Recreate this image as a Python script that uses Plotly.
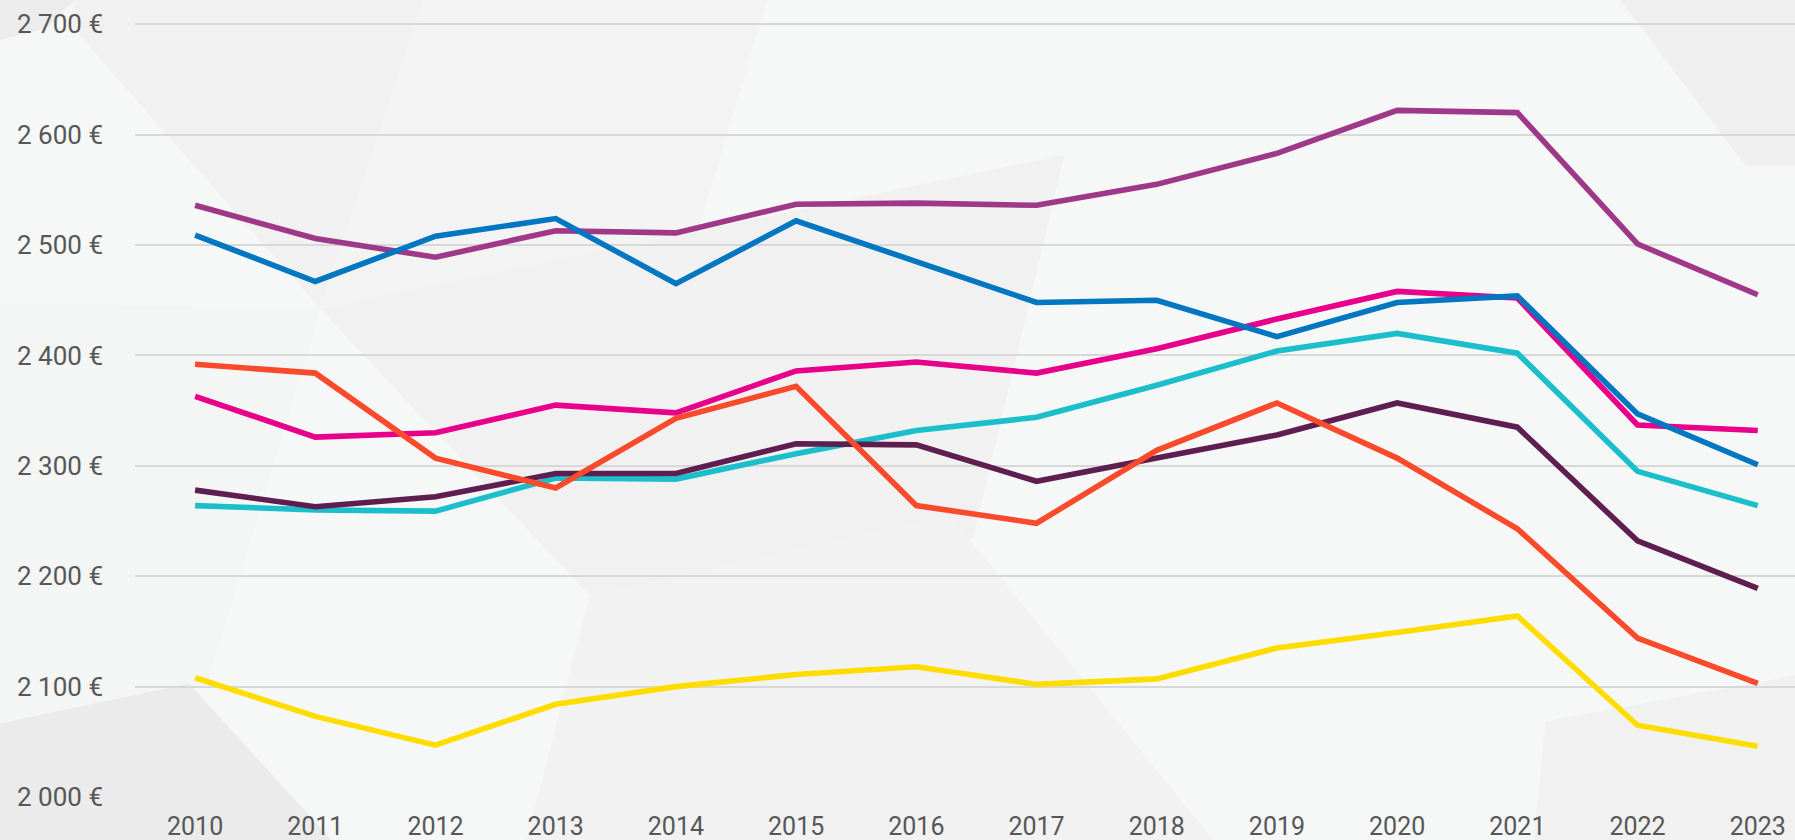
import plotly.graph_objects as go

years = ["2010", "2011", "2012", "2013", "2014", "2015", "2016",
         "2017", "2018", "2019", "2020", "2021", "2022", "2023"]

yellow = [2108, 2073, 2047, 2084, 2100, 2111, 2118, 2102, 2107, 2135, 2149, 2164, 2065, 2046]
cyan = [2264, 2260, 2259, 2289, 2288, 2311, 2332, 2344, 2373, 2404, 2420, 2402, 2295, 2264]
dark_purple = [2278, 2263, 2272, 2293, 2293, 2320, 2319, 2286, 2307, 2328, 2357, 2335, 2232, 2189]
magenta = [2363, 2326, 2330, 2355, 2348, 2386, 2394, 2384, 2406, 2433, 2458, 2452, 2337, 2332]
orange = [2392, 2384, 2307, 2280, 2343, 2372, 2264, 2248, 2314, 2357, 2307, 2243, 2144, 2103]
purple = [2536, 2506, 2489, 2513, 2511, 2537, 2538, 2536, 2555, 2583, 2622, 2620, 2501, 2455]
blue = [2509, 2467, 2508, 2524, 2465, 2522, 2485, 2448, 2450, 2417, 2448, 2454, 2347, 2301]

tick_vals = [2000, 2100, 2200, 2300, 2400, 2500, 2600, 2700]
tick_text = ["2 000 €", "2 100 €", "2 200 €", "2 300 €", "2 400 €", "2 500 €", "2 600 €", "2 700 €"]

series = [
    (yellow, "#FFDD00"),
    (cyan, "#1BBFCB"),
    (dark_purple, "#5E1F50"),
    (magenta, "#E8008A"),
    (orange, "#F94B2B"),
    (purple, "#A0388A"),
    (blue, "#0077C0"),
]

fig = go.Figure()
for vals, col in series:
    fig.add_trace(go.Scatter(x=years, y=vals, mode="lines",
                             line=dict(color=col, width=5.6),
                             hoverinfo="skip"))

# Decorative background polygons (pixel coords of the 1568x734 preview)
W, H = 1795, 840
ML, MB = 135, 43
PW, PH = W - ML, H - MB
S = 1795 / 1568

def poly(pts, color):
    path = ""
    for i, (px, py) in enumerate(pts):
        X = (px * S - ML) / PW
        Y = (PH - py * S) / PH
        path += ("M" if i == 0 else "L") + f"{X:.5f},{Y:.5f} "
    path += "Z"
    return dict(type="path", xref="paper", yref="paper", path=path,
                fillcolor=color, line=dict(width=0), layer="below")

shapes = [
    poly([(0, 0), (65, 0), (40, 25), (0, 35)], "#ECECEC"),
    poly([(65, 0), (370, 0), (280, 270), (60, 20)], "#F1F1F1"),
    poly([(370, 0), (670, 0), (515, 520), (280, 270)], "#F3F3F3"),
    poly([(280, 270), (930, 135), (850, 470), (515, 520)], "#F1F1F1"),
    poly([(0, 265), (280, 270), (180, 600), (0, 632)], "#F4F5F5"),
    poly([(515, 520), (830, 450), (1060, 734), (460, 734)], "#F2F2F2"),
    poly([(0, 632), (165, 597), (290, 734), (0, 734)], "#EBEBEB"),
    poly([(1415, 0), (1568, 0), (1568, 145), (1525, 145)], "#EFEFEF"),
    poly([(1350, 630), (1568, 590), (1568, 734), (1340, 734)], "#F1F1F1"),
]

fig.update_layout(
    width=W, height=H,
    margin=dict(l=ML, r=0, t=0, b=MB, autoexpand=False),
    paper_bgcolor="#F6F7F7",
    plot_bgcolor="rgba(0,0,0,0)",
    showlegend=False,
    shapes=shapes,
    font=dict(family="Roboto", size=26, color="#575757"),
    xaxis=dict(type="category", range=[-0.5, 13.31], showgrid=False,
               zeroline=False, showline=False, ticks="", automargin=False,
               ticklabelstandoff=12, tickfont=dict(size=25, color="#575757")),
    yaxis=dict(range=[2000, 2722], tickvals=tick_vals, ticktext=tick_text,
               showgrid=True, gridcolor="#D8D8D8", gridwidth=2,
               zeroline=False, showline=False, ticks="", automargin=False,
               ticklabelstandoff=31, tickfont=dict(size=26, color="#575757")),
)

fig.write_html("out.html", config={"displayModeBar": False},
               post_script="document.body.style.margin='0';document.body.style.overflow='hidden';")
